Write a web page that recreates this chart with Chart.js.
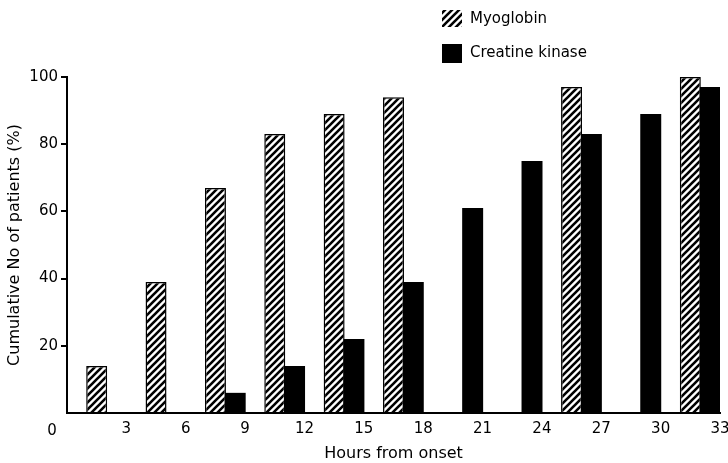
<!DOCTYPE html>
<html>
<head>
<meta charset="utf-8">
<script src="https://cdn.jsdelivr.net/npm/chart.js@4/dist/chart.umd.min.js"></script>
<style>
html,body{margin:0;padding:0;background:#fff;overflow:hidden;width:728px;height:463px;}
#wrap{width:740px;height:463px;}
</style>
</head>
<body>
<div id="wrap"><canvas id="c" width="740" height="463"></canvas></div>
<script>
// Data (hours from onset = bar centre, cumulative % of patients)
const myoHours = [1.5, 4.5, 7.5, 10.5, 13.5, 16.5, 25.5, 31.5];
const myoValues = [14, 39, 67, 83, 89, 94, 97, 100];
const ckHours = [8.5, 11.5, 14.5, 17.5, 20.5, 23.5, 26.5, 29.5, 32.5];
const ckValues = [6, 14, 22, 39, 61, 75, 83, 89, 97];
const seriesNames = ['Myoglobin', 'Creatine kinase'];
const xTickStep = 3, xMax = 33;
const yTickStep = 20, yMax = 100;

const FONT = 'DejaVu Sans';

function makeHatch() {
  const s = 7;
  const p = document.createElement('canvas');
  p.width = s; p.height = s;
  const g = p.getContext('2d');
  g.fillStyle = '#fff'; g.fillRect(0, 0, s, s);
  g.strokeStyle = '#000'; g.lineWidth = 2.6; g.lineCap = 'square';
  g.beginPath();
  g.moveTo(-1, s + 1); g.lineTo(s + 1, -1);
  g.moveTo(-2, 2); g.lineTo(2, -2);
  g.moveTo(s - 2, s + 2); g.lineTo(s + 2, s - 2);
  g.stroke();
  return p;
}
const ctx = document.getElementById('c').getContext('2d');
const hatch = ctx.createPattern(makeHatch(), 'repeat');

const legendPlugin = {
  id: 'customLegend',
  afterDraw(chart) {
    const c = chart.ctx;
    c.save();
    c.fillStyle = hatch;
    c.fillRect(442, 10, 20, 17);
    c.fillStyle = '#000';
    c.fillRect(442, 44, 20, 19);
    c.font = '15px "' + FONT + '"';
    c.textBaseline = 'middle';
    c.textAlign = 'left';
    c.fillText(seriesNames[0], 470, 19);
    c.fillText(seriesNames[1], 470, 53);
    // origin label
    c.textAlign = 'center';
    c.fillText('0', 52, 431);
    c.restore();
  }
};

const toPts = (xs, ys) => xs.map((x, i) => ({x: x, y: ys[i]}));

new Chart(ctx, {
  type: 'bar',
  data: {
    datasets: [
      {label: seriesNames[0], data: toPts(myoHours, myoValues), backgroundColor: hatch,
       borderColor: '#000', borderWidth: 1.5},
      {label: seriesNames[1], data: toPts(ckHours, ckValues), backgroundColor: '#000',
       borderColor: '#000', borderWidth: 0}
    ]
  },
  options: {
    responsive: false,
    animation: false,
    devicePixelRatio: 1,
    layout: {padding: {left: 0, right: 20, top: 77, bottom: 0}},
    datasets: {bar: {grouped: false, barPercentage: 1.06, categoryPercentage: 1}},
    plugins: {legend: {display: false}, tooltip: {enabled: false}},
    scales: {
      x: {
        type: 'linear', min: 0, max: xMax, offset: false,
        ticks: {stepSize: xTickStep, color: '#000', font: {family: FONT, size: 15}, padding: 7,
                maxRotation: 0, autoSkip: false,
                callback: v => v === 0 ? '' : String(v)},
        grid: {drawOnChartArea: false, drawTicks: false},
        border: {display: true, color: '#000', width: 2},
        title: {display: true, text: 'Hours from onset', color: '#000',
                font: {family: FONT, size: 16}, padding: {top: 0, bottom: 0}},
        afterFit: s => { s.height = 50; }
      },
      y: {
        min: 0, max: yMax,
        ticks: {stepSize: yTickStep, color: '#000', font: {family: FONT, size: 15}, padding: 3,
                callback: v => v === 0 ? '' : String(v)},
        grid: {drawOnChartArea: false, drawTicks: true, tickLength: 6, lineWidth: 2,
               color: c => c.tick && c.tick.value === 0 ? 'rgba(0,0,0,0)' : '#000'},
        border: {display: true, color: '#000', width: 2},
        title: {display: true, text: 'Cumulative No of patients (%)', color: '#000',
                font: {family: FONT, size: 16}, padding: {top: 5, bottom: 0}},
        afterFit: s => { s.width = 67; }
      }
    }
  },
  plugins: [legendPlugin]
});
</script>
</body>
</html>
